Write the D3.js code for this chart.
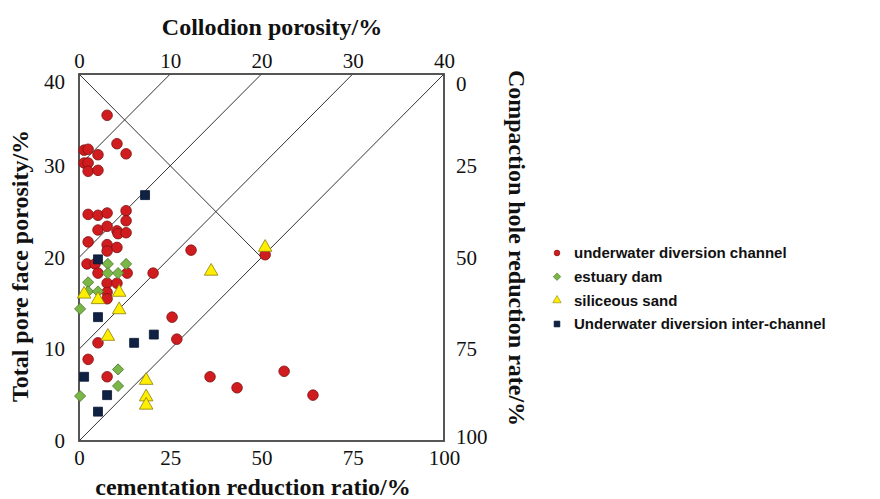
<!DOCTYPE html>
<html>
<head>
<meta charset="utf-8">
<script src="https://cdn.jsdelivr.net/npm/d3@7"></script>
<style>
  body { margin: 0; background: #fff; }
  svg text { fill: #111; }
  .tick text { font-family: 'Liberation Serif', 'Times New Roman', serif !important; font-size: 21px; }
</style>
</head>
<body>
<div id="chart"></div>
<script>
// cementation reduction ratio (%) / total pore face porosity (%)
var channelX = [7.7,1.4,2.5,10.4,12.9,5.2,1.4,2.5,2.5,5.2,2.5,5.2,7.7,12.9,12.9,5.2,7.7,10.4,10.7,12.9,2.5,7.7,10.4,7.7,2.2,4.4,5.2,13.2,7.7,10.4,7.7,7.7,30.7,20.3,25.5,26.8,5.2,2.5,7.7,35.9,43.3,51.0,56.2,64.1];
var channelY = [35.5,31.7,31.8,32.4,31.3,31.2,30.3,30.3,29.4,29.5,24.7,24.6,24.85,25.1,24.0,23.0,23.4,22.9,22.6,22.7,21.7,21.4,21.1,20.7,19.3,19.3,18.3,18.3,17.2,17.2,16.2,15.5,20.8,18.3,13.5,11.1,10.7,8.9,7.0,7.0,5.8,20.3,7.6,5.0];

var damX = [7.9,12.9,7.9,10.7,2.5,2.5,5.2,0.3,10.7,10.7,0.3];
var damY = [19.3,19.3,18.3,18.3,17.3,16.3,16.3,14.4,7.8,6.0,4.9];

var sandX = [51.0,36.2,1.4,11.0,5.2,11.0,7.9,18.4,18.4,18.4];
var sandY = [21.1,18.5,16.0,16.2,15.4,14.3,11.4,6.6,4.8,3.9];

var interX = [18.1,5.2,5.2,20.5,15.1,1.4,7.7,5.2];
var interY = [26.8,19.8,13.5,11.6,10.7,7.0,5.0,3.2];

var seriesNames = ['underwater diversion channel', 'estuary dam', 'siliceous sand', 'Underwater diversion inter-channel'];

var bottomTicks = [0, 25, 50, 75, 100];
var topTicks = [0, 10, 20, 30, 40];
var leftTicks = [0, 10, 20, 30, 40];
var rightTicks = [0, 25, 50, 75, 100];

// guide lines, in (cementation, porosity) units
var guides = [
  [[25, 40], [0, 30]],
  [[50, 40], [0, 20]],
  [[75, 40], [0, 10]],
  [[100, 40], [0, 0]],
  [[0, 40], [50, 20]]
];

var W = 880, H = 499;
var L = 79, R = 444, T = 74, B = 441;

var svg = d3.select('#chart').append('svg')
  .attr('width', W)
  .attr('height', H);

var x = d3.scaleLinear().domain([0, 100]).range([L, R]);
var xTop = d3.scaleLinear().domain([0, 40]).range([L, R]);
var y = d3.scaleLinear().domain([0, 40]).range([B, T]);
var yRight = d3.scaleLinear().domain([0, 100]).range([T, B]);

var serif = "'Liberation Serif', 'Times New Roman', serif";

// guide lines
svg.append('g').selectAll('line')
  .data(guides)
  .enter().append('line')
  .attr('x1', function(d) { return x(d[0][0]); })
  .attr('y1', function(d) { return y(d[0][1]); })
  .attr('x2', function(d) { return x(d[1][0]); })
  .attr('y2', function(d) { return y(d[1][1]); })
  .attr('stroke', '#333')
  .attr('stroke-width', 1);

// frame
svg.append('rect')
  .attr('x', L).attr('y', T)
  .attr('width', R - L).attr('height', B - T)
  .attr('fill', 'none')
  .attr('stroke', '#444')
  .attr('stroke-width', 1.8);

// axes (labels only, no tick marks)
function styleAxis(g) {
  g.attr('font-family', serif).attr('font-size', 21);
  g.select('.domain').remove();
  g.selectAll('.tick line').remove();
  g.selectAll('text')
    .attr('font-family', serif)
    .style('fill', '#111');
}

svg.append('g')
  .attr('transform', 'translate(0,' + (B + 2) + ')')
  .call(d3.axisBottom(x).tickValues(bottomTicks).tickSize(0).tickPadding(7))
  .call(styleAxis);

svg.append('g')
  .attr('transform', 'translate(0,' + (T - 4) + ')')
  .call(d3.axisTop(xTop).tickValues(topTicks).tickSize(0).tickPadding(2))
  .call(styleAxis);

var leftG = svg.append('g')
  .attr('transform', 'translate(' + (L - 14) + ',0)')
  .call(d3.axisLeft(y).tickValues(leftTicks).tickSize(0).tickPadding(0))
  .call(styleAxis);
leftG.selectAll('.tick text').filter(function(d) { return d === 40; }).attr('dy', '0.7em');

var rightG = svg.append('g')
  .attr('transform', 'translate(' + (R + 10) + ',0)')
  .call(d3.axisRight(yRight).tickValues(rightTicks).tickSize(0).tickPadding(2))
  .call(styleAxis);
rightG.selectAll('.tick text').filter(function(d) { return d === 0; }).attr('dy', '0.8em');
rightG.selectAll('.tick text').filter(function(d) { return d === 100; }).attr('dy', '0.1em');

// axis titles
function title(t) {
  return svg.append('text')
    .attr('text-anchor', 'middle')
    .style('font-family', serif).style('font-weight', 'bold').style('font-size', '24px')
    .text(t);
}
title('Collodion porosity/%').attr('x', 272).attr('y', 35);
title('cementation reduction ratio/%').attr('x', 253).attr('y', 495);
title('Total pore face porosity/%').attr('transform', 'translate(28,266) rotate(-90)');
title('Compaction hole reduction rate/%').attr('transform', 'translate(509,248) rotate(90)');

// marker styles
var styles = [
  { type: d3.symbolCircle, rot: 0, fill: '#d01c1f', stroke: '#7d1212', size: 88, lsize: 26 },
  { type: d3.symbolSquare, rot: 45, fill: '#7ab648', stroke: '#4b7a2a', size: 62, lsize: 28 },
  { type: d3.symbolTriangle, rot: 0, fill: '#ffee00', stroke: '#8a7d10', size: 80, lsize: 30 },
  { type: d3.symbolSquare, rot: 0, fill: '#0f2244', stroke: '#0a1730', size: 80, lsize: 34 }
];

var sets = [
  d3.zip(channelX, channelY),
  d3.zip(damX, damY),
  d3.zip(sandX, sandY),
  d3.zip(interX, interY)
];

// draw order: channel first, then dam, sand, inter-channel on top
sets.forEach(function(pts, i) {
  var st = styles[i];
  var sym = d3.symbol().type(st.type).size(st.size);
  svg.append('g').selectAll('path')
    .data(pts)
    .enter().append('path')
    .attr('d', sym)
    .attr('transform', function(d) {
      return 'translate(' + x(d[0]) + ',' + y(d[1]) + ') rotate(' + st.rot + ')';
    })
    .attr('fill', st.fill)
    .attr('stroke', st.stroke)
    .attr('stroke-width', 0.8);
});

// legend
var legendY = d3.scalePoint().domain(seriesNames).range([253, 324]);
var leg = svg.append('g');
seriesNames.forEach(function(name, i) {
  var st = styles[i];
  leg.append('path')
    .attr('d', d3.symbol().type(st.type).size(st.lsize))
    .attr('transform', 'translate(557,' + legendY(name) + ') rotate(' + st.rot + ')')
    .attr('fill', st.fill)
    .attr('stroke', st.stroke)
    .attr('stroke-width', 0.6);
  leg.append('text')
    .attr('x', 574)
    .attr('y', legendY(name))
    .attr('dy', '0.35em')
    .style('font-family', 'Arial, "Liberation Sans", sans-serif')
    .style('font-weight', 'bold')
    .style('font-size', '15px')
    .text(name);
});
</script>
</body>
</html>
